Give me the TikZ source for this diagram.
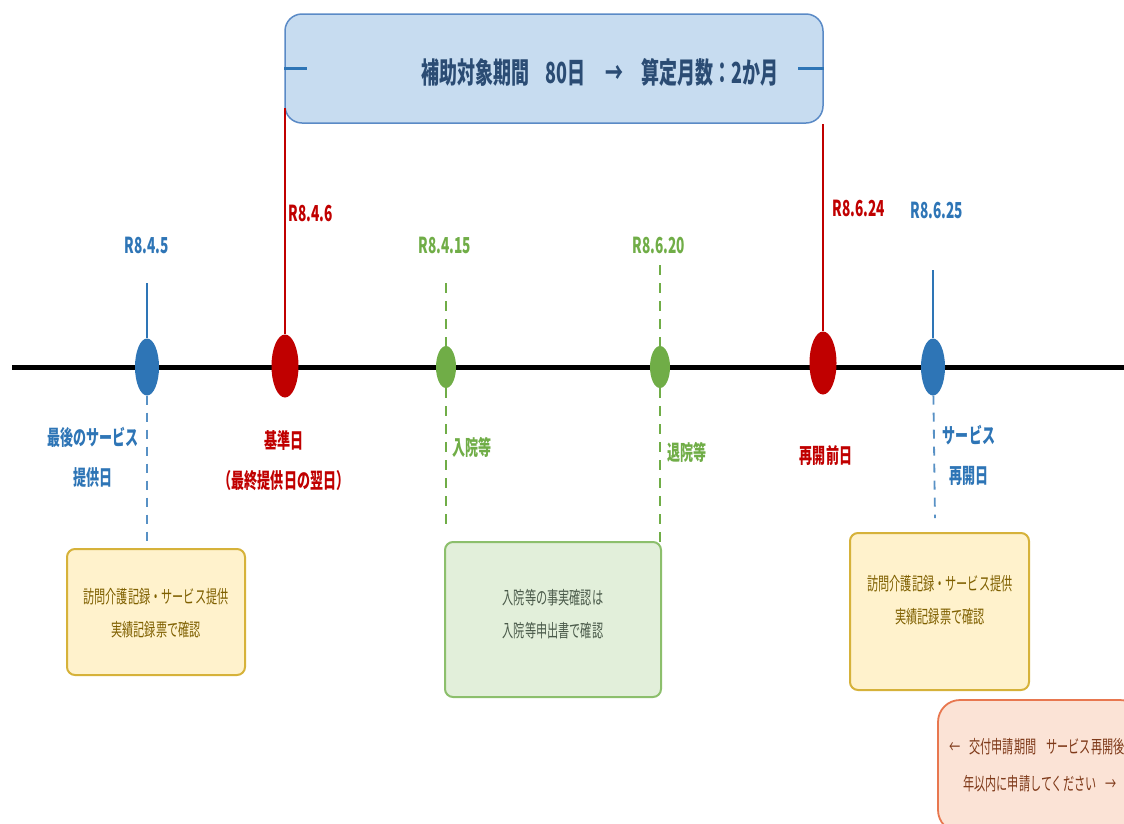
\documentclass[tikz,border=0pt]{standalone}
\usepackage{fontspec}
\usetikzlibrary{shapes.geometric}
\newfontfamily\jp[FakeStretch=0.62]{Noto Sans CJK JP}
\definecolor{cblue}{HTML}{2E75B6}
\definecolor{cred}{HTML}{C00000}
\definecolor{cgreen}{HTML}{70AD47}
\definecolor{hdrfill}{HTML}{C7DCF0}
\definecolor{hdrdraw}{HTML}{5A8AC6}
\definecolor{hdrtext}{HTML}{2B4C74}
\definecolor{yfill}{HTML}{FFF2CC}
\definecolor{ydraw}{HTML}{D6B23A}
\definecolor{ytext}{HTML}{7F6000}
\definecolor{gfill}{HTML}{E2EFDA}
\definecolor{gdraw}{HTML}{8CBF6C}
\definecolor{gtext}{HTML}{4A5A4A}
\definecolor{rfill}{HTML}{FBE3D6}
\definecolor{rdraw}{HTML}{E8774F}
\definecolor{rtext}{HTML}{7F3A1A}
\begin{document}
\begin{tikzpicture}[x=1pt,y=-1pt,
  every node/.style={inner sep=0pt},
  lbl/.style={font=\jp\bfseries\fontsize{21}{40}\selectfont, align=center},
  datelbl/.style={font=\jp\bfseries\fontsize{22}{24}\selectfont},
  boxtxt/.style={font=\jp\fontsize{18}{33}\selectfont, align=center},
  dot/.style={ellipse, draw=none, inner sep=0pt},
  bluedot/.style={dot, fill=cblue, minimum width=24pt, minimum height=57pt},
  reddot/.style={dot, fill=cred, minimum width=27pt, minimum height=63pt},
  greendot/.style={dot, fill=cgreen, minimum width=20pt, minimum height=42pt},
  redline/.style={draw=cred, line width=2.5pt},
  blueline/.style={draw=cblue, line width=2pt},
  bluedash/.style={draw=cblue!80, line width=1.8pt, dash pattern=on 9pt off 8pt},
  greendash/.style={draw=cgreen, line width=2pt, dash pattern=on 10pt off 8pt},
  notebox/.style={draw, line width=2pt, rounded corners=8pt}
]
\useasboundingbox (0,0) rectangle (1124,823);
\clip (0,0) rectangle (1124,823);

% header box
\node[draw=hdrdraw, fill=hdrfill, line width=1.5pt, rounded corners=17pt,
      minimum width=538pt, minimum height=109pt] (hdr) at (554,68.5) {};
\node[font=\jp\bfseries\fontsize{29}{32}\selectfont, text=hdrtext] (hdrtxt) at (600,72)
  {補助対象期間\hspace{16pt}80日\hspace{20pt}→\hspace{18pt}算定月数：2か月};
\draw[cblue, line width=3pt] (hdr.west) -- ++(23,0);
\draw[cblue, line width=3pt] (hdr.east) -- ++(-26,0);

% timeline
\coordinate (tlL) at (12,367);
\coordinate (tlR) at (1124,367);
\draw[black, line width=5pt] (tlL) -- (tlR);

% dots
\node[bluedot]  (d1) at (147,367) {};
\node[reddot]   (d2) at (285,366) {};
\node[greendot] (d3) at (446,367) {};
\node[greendot] (d4) at (660,367) {};
\node[reddot]   (d5) at (823,363) {};
\node[bluedot]  (d6) at (933,367) {};

% lines above
\coordinate (u1) at (147,283);
\coordinate (u2) at (285,108);
\coordinate (u3) at (446,283);
\coordinate (u4) at (660,265);
\coordinate (u5) at (823,124);
\coordinate (u6) at (933,270);
\draw[blueline] (u1) -- (d1);
\draw[redline] (u2) -- (d2);
\draw[greendash] (u3) -- (d3);
\draw[greendash] (u4) -- (d4);
\draw[redline] (u5) -- (d5);
\draw[blueline] (u6) -- (d6);

% lines below
\coordinate (b1) at (147,542);
\coordinate (b3) at (446,525);
\coordinate (b4) at (660,545);
\coordinate (b6) at (935,518);
\draw[bluedash] (d1) -- (b1);
\draw[greendash] (d3) -- (b3);
\draw[greendash] (d4) -- (b4);
\draw[bluedash] (d6) -- (b6);

% date labels
\node[datelbl, text=cblue]  (t1) at (147,245) {R8.4.5};
\node[datelbl, text=cred]   (t2) at (311,213) {R8.4.6};
\node[datelbl, text=cgreen] (t3) at (445,245) {R8.4.15};
\node[datelbl, text=cgreen] (t4) at (659,245) {R8.6.20};
\node[datelbl, text=cred]   (t5) at (859,208) {R8.6.24};
\node[datelbl, text=cblue]  (t6) at (937,210) {R8.6.25};

% descriptions
\node[lbl, text=cblue]  (l1) at (93,457) {最後のサービス\\提供日};
\node[lbl, text=cred]   (l2) at (284,461) {基準日\\（最終提供日の翌日）};
\node[lbl, text=cgreen] (l3) at (472,447) {入院等};
\node[lbl, text=cgreen] (l4) at (687,452) {退院等};
\node[lbl, text=cred]   (l5) at (826,456) {再開前日};
\node[lbl, text=cblue]  (l6) at (969,455) {サービス\\再開日};

% note boxes
\node[notebox, draw=ydraw, fill=yfill, minimum width=178pt, minimum height=126pt] (n1) at (156,612) {};
\node[boxtxt, text=ytext] (n1t) at (156,613) {訪問介護記録・サービス提供\\実績記録票で確認};

\node[notebox, draw=gdraw, fill=gfill, minimum width=216pt, minimum height=155pt] (n2) at (553,619.5) {};
\node[boxtxt, text=gtext] (n2t) at (553,614) {入院等の事実確認は\\入院等申出書で確認};

\node[notebox, draw=ydraw, fill=yfill, minimum width=179pt, minimum height=157pt] (n3) at (939.5,611.5) {};
\node[boxtxt, text=ytext] (n3t) at (940,600) {訪問介護記録・サービス提供\\実績記録票で確認};

\node[draw=rdraw, fill=rfill, line width=1.8pt, rounded corners=22pt,
      minimum width=204pt, minimum height=132pt] (n4) at (1040,766) {};
\node[font=\jp\fontsize{18}{37}\selectfont, text=rtext, align=center] (n4t) at (1040,765)
  {←\hspace{9pt}交付申請期間\hspace{10pt}サービス再開後2\\年以内に申請してください\hspace{9pt}→};
\end{tikzpicture}
\end{document}
